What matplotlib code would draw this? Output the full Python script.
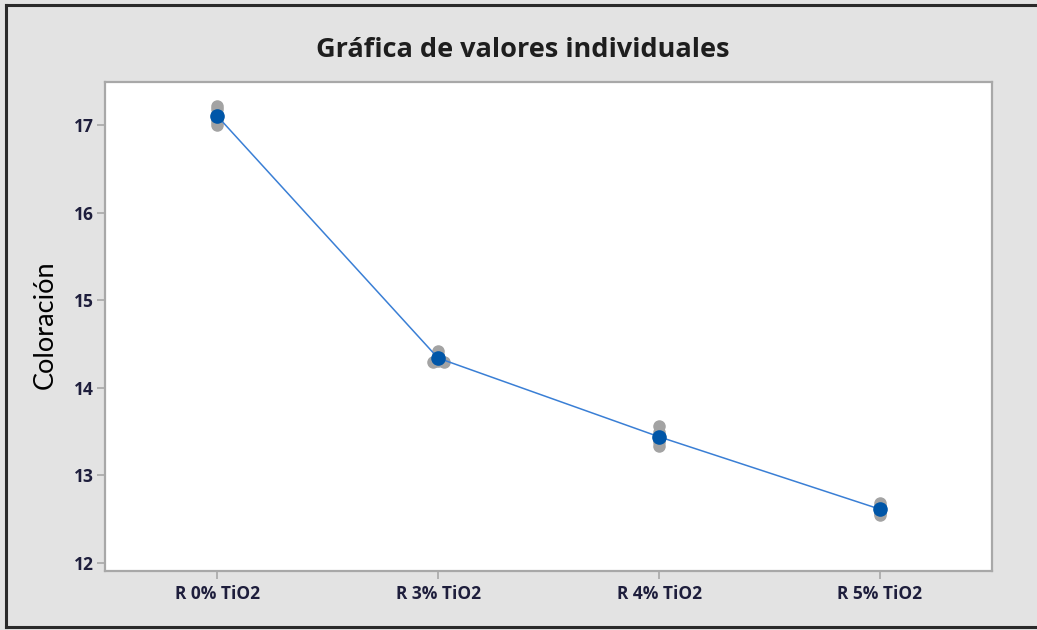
import matplotlib.pyplot as plt
from matplotlib.lines import Line2D
import numpy as np

# datos (Minitab, valores individuales)
grupos = ["R 0% TiO2", "R 3% TiO2", "R 4% TiO2", "R 5% TiO2"]
r0 = [17.00, 17.03, 17.07, 17.10, 17.13, 17.18, 17.22]
r3 = [14.29, 14.30, 14.31, 14.34, 14.38, 14.42]
r4 = [13.34, 13.38, 13.42, 13.45, 13.50, 13.56]
r5 = [12.55, 12.57, 12.60, 12.63, 12.65, 12.69]
valores = [r0, r3, r4, r5]
# pequeño desplazamiento horizontal de los puntos repetidos
jitter = [[0, 0, 0, 0, 0, 0, 0],
          [-0.025, 0.025, 0, 0, 0, 0],
          [0, 0, 0, 0, 0, 0],
          [0, 0, 0, 0, 0, 0]]

yticks = [12, 13, 14, 15, 16, 17]

fig = plt.figure(figsize=(10.37, 6.3), dpi=100, facecolor="#e3e3e3")
ax = fig.add_axes([0.1013, 0.0937, 0.8553, 0.7761])
ax.set_facecolor("white")

x = np.arange(1, len(grupos) + 1)
for i, vals in enumerate(valores):
    xs = x[i] + np.array(jitter[i])
    ax.plot(xs, vals, "o", color="#a3a3a3", ms=8, mec="#a3a3a3", zorder=2)

medias = [np.mean(v) for v in valores]
ax.plot(x, medias, "-", color="#3a7fd5", lw=1.1, zorder=3)
ax.plot(x, medias, "o", color="#0056a8", ms=9.5, zorder=4)

ax.set_xlim(0.493, 4.507)
ax.set_ylim(11.91, 17.49)
ax.set_xticks(x)
ax.set_xticklabels(grupos)
ax.set_yticks(yticks)

for s in ax.spines.values():
    s.set_color("#a8a8a8")
    s.set_linewidth(1.6)

ax.tick_params(axis="both", color="#a8a8a8", length=6, width=1.2, labelcolor="#1e1e3c")
ax.tick_params(axis="x", pad=4)
ax.tick_params(axis="y", pad=2)
for lab in ax.get_xticklabels() + ax.get_yticklabels():
    lab.set_fontfamily("Open Sans")
    lab.set_fontweight("bold")
    lab.set_fontsize(12.5)

fig.text(0.504, 0.92, "Gráfica de valores individuales", ha="center", va="center",
         fontsize=19.5, fontweight="bold", family="Open Sans", color="#1e1e1e")
fig.text(0.044, 0.484, "Coloración", rotation=90, ha="center", va="center",
         fontsize=19.5, family="Lato", color="black")

# marco exterior
borde = dict(color="#2a2a2a", lw=2.2, transform=fig.transFigure)
fig.add_artist(Line2D([0.0058, 0.0058], [0.005, 0.992], **borde))
fig.add_artist(Line2D([0.0058, 1.0], [0.992, 0.992], **borde))
fig.add_artist(Line2D([0.0058, 1.0], [0.005, 0.005], **borde))

fig.savefig("out.png", dpi=100, facecolor=fig.get_facecolor())
